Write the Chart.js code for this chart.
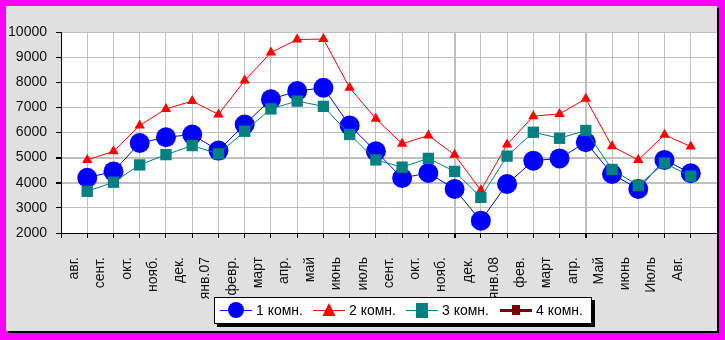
<!DOCTYPE html>
<html>
<head>
<meta charset="utf-8">
<script src="https://cdn.jsdelivr.net/npm/chart.js@4.4.0/dist/chart.umd.min.js"></script>
<style>
  body { margin: 0; background: #ff00ff; }
  #frame { position: absolute; left: 6px; top: 6px; width: 711px; height: 325px; background: #e0e0e0; box-shadow: 2px 2px 0 #000; }
  #myChart { display: block; }
</style>
</head>
<body>
<div id="frame"><canvas id="myChart" width="711" height="325"></canvas></div>
<script>
// month labels, aug 2006 .. aug 2008
var months = ['авг.', 'сент.', 'окт.', 'нояб.', 'дек.', 'янв.07', 'февр.', 'март', 'апр.', 'май', 'июнь', 'июль',
              'сент.', 'окт.', 'нояб.', 'дек.', 'янв.08', 'фев.', 'март', 'апр.', 'Май', 'июнь', 'Июль', 'Авг.'];

var room1 = [4200, 4450, 5580, 5810, 5920, 5280, 6320, 7320, 7650, 7780, 6280, 5250,
             4190, 4390, 3750, 2490, 3950, 4880, 4970, 5610, 4350, 3750, 4910, 4380];
var room2 = [4910, 5250, 6280, 6940, 7250, 6720, 8070, 9180, 9700, 9720, 7780, 6550,
             5550, 5880, 5110, 3700, 5520, 6650, 6740, 7340, 5450, 4910, 5910, 5440];
var room3 = [3660, 4020, 4710, 5120, 5480, 5150, 6050, 6940, 7250, 7040, 5920, 4910,
             4620, 4970, 4450, 3420, 5060, 6010, 5770, 6080, 4530, 3890, 4780, 4260];
var room4 = []; // no values shown for 4 rooms

var seriesNames = ['1 комн.', '2 комн.', '3 комн.', '4 комн.'];
var yTicks = [2000, 3000, 4000, 5000, 6000, 7000, 8000, 9000, 10000];

function toPoints(arr) {
  return arr.map(function (v, i) { return { x: i, y: v }; });
}

var FONT = '"Liberation Sans", Arial, sans-serif';

// legend drawn by hand so it can sit over the x labels like the original
var legendBox = {
  id: 'legendBox',
  afterDraw: function (chart) {
    var ctx = chart.ctx;
    var bx = 208, by = 291, bw = 378, bh = 27;
    ctx.save();
    ctx.fillStyle = '#000';
    ctx.fillRect(bx + 3, by + 3, bw, bh);
    ctx.fillStyle = '#fff';
    ctx.fillRect(bx, by, bw, bh);
    ctx.strokeStyle = '#000';
    ctx.lineWidth = 1;
    ctx.strokeRect(bx + 0.5, by + 0.5, bw - 1, bh - 1);

    var starts = [214, 307, 400, 494];
    var cy = 304;
    ctx.font = '14px ' + FONT;
    ctx.textBaseline = 'middle';
    chart.data.datasets.forEach(function (ds, i) {
      var x = starts[i];
      ctx.strokeStyle = ds.borderColor;
      ctx.lineWidth = ds.legendLine || 1;
      ctx.beginPath();
      ctx.moveTo(x, cy + 0.5);
      ctx.lineTo(x + 32, cy + 0.5);
      ctx.stroke();
      ctx.fillStyle = ds.pointBackgroundColor;
      var mx = x + 16;
      if (ds.pointStyle === 'circle') {
        ctx.beginPath();
        ctx.arc(mx, cy, 8, 0, Math.PI * 2);
        ctx.fill();
      } else if (ds.pointStyle === 'triangle') {
        ctx.beginPath();
        ctx.moveTo(mx, cy - 7);
        ctx.lineTo(mx + 6.5, cy + 6);
        ctx.lineTo(mx - 6.5, cy + 6);
        ctx.closePath();
        ctx.fill();
      } else if (i === 2) {
        ctx.fillRect(mx - 6, cy - 7, 12, 15);
      } else {
        ctx.fillRect(mx - 4, cy - 5, 8, 10);
      }
      ctx.fillStyle = '#000';
      ctx.fillText(seriesNames[i], x + 36, cy + 1);
    });
    ctx.restore();
  }
};

var ctx = document.getElementById('myChart');
var myChart = new Chart(ctx, {
  type: 'line',
  data: {
    datasets: [
      {
        label: seriesNames[0],
        data: toPoints(room1),
        borderColor: '#0000ff',
        borderWidth: 1,
        pointStyle: 'circle',
        pointRadius: 10,
        pointBorderWidth: 0,
        pointBackgroundColor: '#0000ff',
        order: 4
      },
      {
        label: seriesNames[1],
        data: toPoints(room2),
        borderColor: '#ff0000',
        borderWidth: 1,
        pointStyle: 'triangle',
        pointRadius: 6,
        pointBorderWidth: 0,
        pointBackgroundColor: '#ff0000',
        order: 3
      },
      {
        label: seriesNames[2],
        data: toPoints(room3),
        borderColor: '#008080',
        borderWidth: 1,
        pointStyle: 'rect',
        pointRadius: 8,
        pointBorderWidth: 0,
        pointBackgroundColor: '#008080',
        order: 2
      },
      {
        label: seriesNames[3],
        data: toPoints(room4),
        borderColor: '#800000',
        borderWidth: 1,
        legendLine: 3,
        pointStyle: 'rect',
        pointRadius: 6,
        pointBackgroundColor: '#800000',
        order: 1
      }
    ]
  },
  options: {
    responsive: false,
    maintainAspectRatio: false,
    animation: false,
    clip: false,
    layout: { autoPadding: false, padding: { top: 26, right: 0, left: 0, bottom: 0 } },
    plugins: {
      legend: { display: false },
      tooltip: { enabled: false }
    },
    scales: {
      x: {
        type: 'linear',
        min: -1,
        max: 24,
        afterBuildTicks: function (scale) {
          var t = [];
          for (var i = -1; i <= 24; i++) t.push({ value: i });
          scale.ticks = t;
        },
        grid: {
          color: '#c0c0c0',
          tickColor: '#000',
          tickLength: 5,
          lineWidth: function (c) {
            return (c.tick && (c.tick.value === 14 || c.tick.value === 19)) ? 2 : 1;
          }
        },
        border: { color: '#000', width: 1 },
        ticks: {
          autoSkip: false,
          minRotation: 90,
          maxRotation: 90,
          padding: 19,
          labelOffset: -13,
          color: '#111',
          font: { family: FONT, size: 14 },
          callback: function (v) { return months[v] !== undefined ? months[v] : ''; }
        },
        afterFit: function (scale) {
          scale.height = 98;
          scale.paddingLeft = 0;
          scale.paddingRight = 0;
        }
      },
      y: {
        min: 2000,
        max: 10000,
        afterBuildTicks: function (scale) {
          scale.ticks = yTicks.map(function (v) { return { value: v }; });
        },
        grid: {
          color: '#c0c0c0',
          tickColor: '#000',
          tickLength: 5,
          lineWidth: function (c) {
            return (c.tick && (c.tick.value === 4000 || c.tick.value === 5000)) ? 2 : 1;
          }
        },
        border: { color: '#000', width: 1 },
        ticks: {
          padding: 9,
          color: '#111',
          font: { family: FONT, size: 14 },
          callback: function (v) { return String(v); }
        },
        afterFit: function (scale) { scale.width = 55; }
      }
    }
  },
  plugins: [legendBox, {
    id: 'plotBg',
    beforeDraw: function (chart) {
      var a = chart.chartArea;
      chart.ctx.save();
      chart.ctx.fillStyle = '#fff';
      chart.ctx.fillRect(a.left, a.top, a.right - a.left, a.bottom - a.top);
      chart.ctx.restore();
    }
  }]
});
</script>
</body>
</html>
